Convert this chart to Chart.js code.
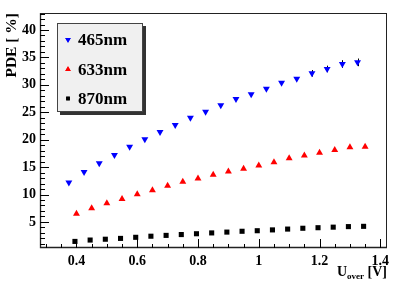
<!DOCTYPE html>
<html>
<head>
<meta charset="utf-8">
<script src="https://cdn.jsdelivr.net/npm/chart.js@4/dist/chart.umd.min.js"></script>
<style>
  html, body { margin: 0; padding: 0; background: #fff; }
  #wrap { width: 407px; height: 286px; }
</style>
</head>
<body>
<div id="wrap"><canvas id="c" width="407" height="286"></canvas></div>
<script>
const labels = ['465nm', '633nm', '870nm'];
const x465 = [0.375, 0.425, 0.475, 0.525, 0.575, 0.625, 0.675, 0.725, 0.775, 0.825,
              0.875, 0.925, 0.975, 1.025, 1.075, 1.125, 1.175, 1.225, 1.275, 1.325];
const y465 = [12.2, 14.1, 15.7, 17.2, 18.7, 20.1, 21.4, 22.7, 24.0, 25.1,
              26.3, 27.4, 28.3, 29.3, 30.4, 31.1, 32.1, 32.9, 33.8, 34.1];
const err465 = [0, 0, 0, 0, 0, 0, 0, 0, 0, 0,
                0, 0, 0, 0, 0, 0, 0.6, 0.6, 0.7, 0.7];
const x633 = [0.40, 0.45, 0.50, 0.55, 0.60, 0.65, 0.70, 0.75, 0.80, 0.85,
              0.90, 0.95, 1.00, 1.05, 1.10, 1.15, 1.20, 1.25, 1.30, 1.35];
const y633 = [6.5, 7.5, 8.4, 9.2, 10.05, 10.8, 11.6, 12.35, 12.9, 13.6,
              14.2, 14.7, 15.3, 15.9, 16.6, 17.1, 17.6, 18.1, 18.6, 18.7];
const x870 = [0.395, 0.445, 0.495, 0.545, 0.595, 0.645, 0.695, 0.745, 0.795, 0.845,
              0.895, 0.945, 0.995, 1.045, 1.095, 1.145, 1.195, 1.245, 1.295, 1.345];
const y870 = [1.45, 1.7, 1.85, 2.0, 2.2, 2.4, 2.55, 2.7, 2.85, 3.0,
              3.15, 3.3, 3.4, 3.55, 3.7, 3.85, 3.95, 4.05, 4.15, 4.2];
const xTicks = [0.4, 0.6, 0.8, 1.0, 1.2, 1.4];
const yTicks = [5, 10, 15, 20, 25, 30, 35, 40];

const serif = '"Liberation Serif", "DejaVu Serif", serif';

function pts(xs, ys) {
  return xs.map((x, i) => ({ x: x, y: ys[i] }));
}

// ROOT-like frame with inward ticks, error bars, axis titles and legend box
const rootStyle = {
  id: 'rootStyle',
  beforeDatasetsDraw(chart) {
    const ctx = chart.ctx;
    const xs = chart.scales.x, ys = chart.scales.y;
    ctx.save();
    // error bars on the 465nm points, under the markers
    ctx.strokeStyle = '#000';
    ctx.lineWidth = 1;
    err465.forEach((e, i) => {
      if (!e) return;
      const px = Math.round(xs.getPixelForValue(x465[i])) + 0.5;
      ctx.beginPath();
      ctx.moveTo(px, ys.getPixelForValue(y465[i] - e));
      ctx.lineTo(px, ys.getPixelForValue(y465[i] + e));
      ctx.stroke();
    });
    ctx.restore();
  },
  afterDatasetsDraw(chart) {
    const ctx = chart.ctx;
    const a = chart.chartArea;
    const xs = chart.scales.x, ys = chart.scales.y;
    ctx.save();

    // frame
    ctx.strokeStyle = '#222';
    ctx.lineWidth = 1;
    ctx.strokeRect(a.left + 0.5, a.top + 0.5, a.right - a.left - 1, a.bottom - a.top - 1);
    ctx.lineWidth = 1.3;
    ctx.beginPath();
    ctx.moveTo(a.left + 0.5, a.top);
    ctx.lineTo(a.left + 0.5, a.bottom - 0.5);
    ctx.lineTo(a.right, a.bottom - 0.5);
    ctx.stroke();

    // y ticks
    ctx.lineWidth = 1;
    ctx.strokeStyle = '#000';
    for (let v = 1; v <= ys.max; v += 1) {
      const py = Math.round(ys.getPixelForValue(v)) + 0.5;
      const len = v % 5 === 0 ? 9 : 5;
      ctx.beginPath();
      ctx.moveTo(a.left, py);
      ctx.lineTo(a.left + len, py);
      ctx.stroke();
    }
    // x ticks
    for (let k = 6; k <= 28; k++) {
      const v = k * 0.05;
      if (v < xs.min || v > xs.max) continue;
      const px = Math.round(xs.getPixelForValue(v)) + 0.5;
      const len = k % 4 === 0 ? 9 : 4;
      ctx.beginPath();
      ctx.moveTo(px, a.bottom);
      ctx.lineTo(px, a.bottom - len);
      ctx.stroke();
    }

    // axis titles
    ctx.fillStyle = '#000';
    ctx.textBaseline = 'alphabetic';
    // x title right-aligned, with subscript
    const big = 'bold 14px ' + serif, small = 'bold 9px ' + serif;
    ctx.font = big;
    const wU = ctx.measureText('U').width;
    const wV = ctx.measureText(' [V]').width;
    ctx.font = small;
    const wO = ctx.measureText('over').width;
    let tx = a.right - (wU + wO + wV);
    const ty = 276;
    ctx.font = big; ctx.fillText('U', tx, ty); tx += wU;
    ctx.font = small; ctx.fillText('over', tx, ty + 3); tx += wO;
    ctx.font = big; ctx.fillText(' [V]', tx, ty);

    // y title rotated, aligned to top
    ctx.save();
    ctx.translate(16, a.top);
    ctx.rotate(-Math.PI / 2);
    ctx.font = 'bold 15.5px ' + serif;
    ctx.textAlign = 'right';
    ctx.fillText('PDE [ %]', 0, 0);
    ctx.restore();

    // legend box
    const bx = 57, by = 23, bw = 86, bh = 89;
    ctx.fillStyle = '#333';
    ctx.fillRect(bx + 3, by + 3, bw, bh);
    ctx.fillStyle = '#f0f0f0';
    ctx.fillRect(bx, by, bw, bh);
    ctx.strokeStyle = '#444';
    ctx.lineWidth = 1;
    ctx.strokeRect(bx + 0.5, by + 0.5, bw - 1, bh - 1);
    const rows = [39.5, 69.5, 98.5];
    chart.data.datasets.forEach((ds, i) => {
      ctx.fillStyle = ds.backgroundColor;
      Chart.helpers.drawPoint(ctx, {
        pointStyle: ds.pointStyle, rotation: ds.rotation || 0,
        radius: ds.pointStyle === 'rect' ? 2.6 : 3.2, borderWidth: 0
      }, 68, rows[i]);
      ctx.fill();
      ctx.fillStyle = '#000';
      ctx.font = 'bold 17px ' + serif;
      ctx.textAlign = 'left';
      ctx.textBaseline = 'middle';
      ctx.fillText(ds.label, 78, rows[i] + 1);
    });
    ctx.restore();
  }
};

new Chart(document.getElementById('c'), {
  type: 'scatter',
  data: {
    datasets: [
      { label: labels[0], data: pts(x465, y465), pointStyle: 'triangle', rotation: 180,
        pointRadius: 4, backgroundColor: '#0000ff', borderColor: '#0000ff', borderWidth: 0 },
      { label: labels[1], data: pts(x633, y633), pointStyle: 'triangle',
        pointRadius: 4, backgroundColor: '#ff0000', borderColor: '#ff0000', borderWidth: 0 },
      { label: labels[2], data: pts(x870, y870), pointStyle: 'rect',
        pointRadius: 3.6, backgroundColor: '#000000', borderColor: '#000000', borderWidth: 0 }
    ]
  },
  options: {
    responsive: false,
    animation: false,
    events: [],
    layout: { padding: { top: 13, right: 20, left: 0, bottom: 0 } },
    plugins: { legend: { display: false }, tooltip: { enabled: false } },
    scales: {
      x: {
        type: 'linear', min: 0.28, max: 1.422,
        border: { display: false },
        grid: { display: false, drawTicks: false },
        afterBuildTicks: (s) => { s.ticks = xTicks.map(v => ({ value: v })); },
        afterFit: (s) => { s.height = 38; },
        ticks: {
          padding: 5, color: '#000', maxRotation: 0, autoSkip: false,
          font: { family: serif, size: 14, weight: 'bold' },
          callback: (v) => String(Math.round(v * 10) / 10)
        }
      },
      y: {
        type: 'linear', min: 0.25, max: 43.1,
        border: { display: false },
        grid: { display: false, drawTicks: false },
        afterBuildTicks: (s) => { s.ticks = yTicks.map(v => ({ value: v })); },
        afterFit: (s) => { s.width = 40; },
        ticks: {
          padding: 4, color: '#000', autoSkip: false,
          font: { family: serif, size: 14, weight: 'bold' }
        }
      }
    }
  },
  plugins: [rootStyle]
});
</script>
</body>
</html>
